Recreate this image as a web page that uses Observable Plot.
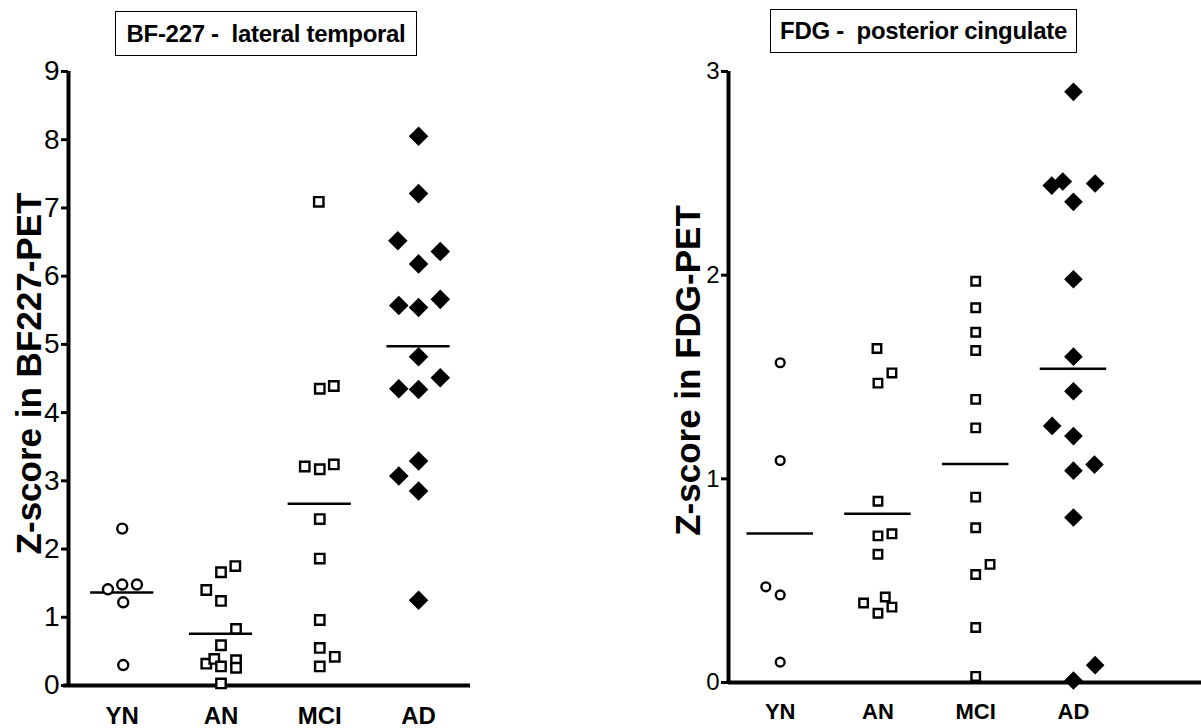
<!DOCTYPE html>
<html><head><meta charset="utf-8">
<script src="https://cdn.jsdelivr.net/npm/d3@7"></script>
<script src="https://cdn.jsdelivr.net/npm/@observablehq/plot@0.6"></script>
<style>
body{margin:0;background:#fff;}
#wrap{position:relative;width:1201px;height:728px;overflow:hidden;font-family:"Liberation Sans",Arial,sans-serif;background:#fff;}
.panel{position:absolute;top:0;}
.title{position:absolute;border:1.5px solid #000;box-sizing:border-box;font-weight:bold;white-space:pre;display:flex;align-items:center;justify-content:center;background:#fff;color:#000;letter-spacing:-0.3px;}
</style></head><body><div id="wrap"></div>
<script>
const groups = ["YN", "AN", "MCI", "AD"];

// Left panel: BF-227 - lateral temporal
const bfTitle = "BF-227 -  lateral temporal";
const bfYLabel = "Z-score in BF227-PET";
const bfTicks = [0, 1, 2, 3, 4, 5, 6, 7, 8, 9];
const bfGroup = [
  "YN","YN","YN","YN","YN","YN",
  "AN","AN","AN","AN","AN","AN","AN","AN","AN","AN","AN","AN",
  "MCI","MCI","MCI","MCI","MCI","MCI","MCI","MCI","MCI","MCI","MCI","MCI",
  "AD","AD","AD","AD","AD","AD","AD","AD","AD","AD","AD","AD","AD","AD","AD","AD"
];
const bfZ = [
  2.30, 1.41, 1.48, 1.48, 1.22, 0.30,
  1.66, 1.75, 1.40, 1.24, 0.83, 0.59, 0.32, 0.39, 0.28, 0.37, 0.26, 0.03,
  7.09, 4.35, 4.39, 3.21, 3.17, 3.24, 2.44, 1.86, 0.96, 0.55, 0.42, 0.28,
  8.05, 7.21, 6.52, 6.36, 6.18, 5.57, 5.54, 5.66, 4.82, 4.35, 4.34, 4.51, 3.29, 3.07, 2.85, 1.25
];
const bfShift = [
  0, -0.145, 0, 0.149, 0.01, 0.01,
  0, 0.145, -0.149, 0, 0.152, 0, -0.149, -0.068, 0, 0.152, 0.152, 0,
  -0.01, 0, 0.142, -0.152, 0, 0.142, 0, 0, 0, 0, 0.152, 0,
  0, 0, -0.21, 0.22, 0, -0.2, 0, 0.22, 0, -0.2, 0, 0.22, 0, -0.2, 0, 0
];

// Right panel: FDG - posterior cingulate
const fdgTitle = "FDG -  posterior cingulate";
const fdgYLabel = "Z-score in FDG-PET";
const fdgTicks = [0, 1, 2, 3];
const fdgGroup = [
  "YN","YN","YN","YN","YN",
  "AN","AN","AN","AN","AN","AN","AN","AN","AN","AN","AN",
  "MCI","MCI","MCI","MCI","MCI","MCI","MCI","MCI","MCI","MCI","MCI","MCI",
  "AD","AD","AD","AD","AD","AD","AD","AD","AD","AD","AD","AD","AD","AD","AD"
];
const fdgZ = [
  1.57, 1.09, 0.47, 0.43, 0.10,
  1.64, 1.47, 1.52, 0.89, 0.72, 0.73, 0.63, 0.39, 0.42, 0.34, 0.37,
  1.97, 1.84, 1.72, 1.63, 1.39, 1.25, 0.91, 0.76, 0.53, 0.58, 0.27, 0.03,
  2.90, 2.44, 2.46, 2.45, 2.36, 1.98, 1.60, 1.43, 1.26, 1.21, 1.04, 1.07, 0.81, 0.085, 0.01
];
const fdgShift = [
  0, 0, -0.147, 0, 0,
  -0.01, 0, 0.143, 0, 0, 0.143, 0, -0.147, 0.075, 0, 0.143,
  0, 0, 0, 0, 0, 0, 0, 0, 0, 0.147, 0, 0,
  0, -0.222, -0.109, 0.222, 0, 0, 0, 0, -0.218, 0, 0, 0.215, 0, 0.222, 0
];

const FONT = "Liberation Sans, Arial, sans-serif";

function makePanel(cfg) {
  const rows = cfg.z.map((v, i) => ({
    g: cfg.group[i],
    gi: groups.indexOf(cfg.group[i]),
    x: groups.indexOf(cfg.group[i]) + cfg.shift[i],
    z: v
  }));
  const means = groups.map((g, i) => ({gi: i, m: d3.mean(rows.filter(r => r.g === g), r => r.z)}));
  const [x0, x1] = cfg.xDomain;
  const [y0, y1] = cfg.yDomain;
  return Plot.plot({
    width: cfg.width, height: cfg.height,
    marginLeft: cfg.mL, marginRight: cfg.mR, marginTop: cfg.mT, marginBottom: cfg.mB,
    style: {fontFamily: FONT, color: "#000", background: "transparent", overflow: "visible"},
    x: {type: "linear", domain: cfg.xDomain},
    y: {domain: cfg.yDomain},
    marks: [
      Plot.ruleY([y0], {x1: x0 - cfg.xOver, x2: x1, stroke: "#000", strokeWidth: 4}),
      Plot.ruleX([x0], {y1: y0, y2: y1, stroke: "#000", strokeWidth: 4}),
      Plot.axisY({ticks: cfg.yTicks, tickFormat: d3.format("d"), tickSize: 7, tickPadding: 2,
        fontSize: cfg.tickFont, strokeWidth: 3, label: null}),
      Plot.axisX({ticks: [0, 1, 2, 3], tickFormat: i => groups[i], tickSize: 0, tickPadding: cfg.catPad,
        fontSize: cfg.catFont, fontWeight: "bold", label: null}),
      Plot.ruleY(means, {y: "m", x1: d => d.gi - cfg.meanHalf, x2: d => d.gi + cfg.meanHalf, stroke: "#000", strokeWidth: 2.5}),
      Plot.dot(rows.filter(r => r.g === "YN"), {x: "x", y: "z", symbol: "circle", r: cfg.rc, stroke: "#000", fill: "#fff", strokeWidth: 2.4}),
      Plot.dot(rows.filter(r => r.g === "AN" || r.g === "MCI"), {x: "x", y: "z", symbol: "square", r: cfg.rs, stroke: "#000", fill: "#fff", strokeWidth: 2.4}),
      Plot.dot(rows.filter(r => r.g === "AD"), {x: "x", y: "z", symbol: "diamond2", r: cfg.rd, fill: "#000", stroke: "none"}),
      Plot.text([cfg.yLabel], {frameAnchor: "left", rotate: -90, dx: cfg.labelDx, dy: cfg.labelDy,
        fontSize: 35, fontWeight: "bold", textAnchor: "middle", lineAnchor: "middle", fill: "#000"})
    ]
  });
}

const wrap = document.getElementById("wrap");

const left = makePanel({
  group: bfGroup, z: bfZ, shift: bfShift, yLabel: bfYLabel, yTicks: bfTicks,
  width: 600, height: 728, mL: 68, mR: 130, mT: 71, mB: 43,
  xDomain: [-0.544, 3.526], yDomain: [0, 9], xOver: 0.05,
  tickFont: 28, catFont: 24, catPad: 21, meanHalf: 0.32,
  rc: 5, rs: 5.3, rd: 8.8, labelDx: -39, labelDy: -5
});
left.classList.add("panel");
left.style.left = "0px";
wrap.appendChild(left);

const right = makePanel({
  group: fdgGroup, z: fdgZ, shift: fdgShift, yLabel: fdgYLabel, yTicks: fdgTicks,
  width: 601, height: 728, mL: 128, mR: 0, mT: 71, mB: 46,
  xDomain: [-0.529, 4.31], yDomain: [0, 3], xOver: 0,
  tickFont: 24, catFont: 22, catPad: 21, meanHalf: 0.34,
  rc: 4.4, rs: 4.8, rd: 8.4, labelDx: -40, labelDy: -6.5
});
right.classList.add("panel");
right.style.left = "600px";
wrap.appendChild(right);

function addTitle(text, x, y, w, h, fs) {
  const d = document.createElement("div");
  d.className = "title";
  d.textContent = text;
  Object.assign(d.style, {left: x + "px", top: y + "px", width: w + "px", height: h + "px", fontSize: fs + "px"});
  wrap.appendChild(d);
}
addTitle(bfTitle, 115, 11, 302, 45, 24);
addTitle(fdgTitle, 770, 9, 307, 44, 24);
</script>
</body></html>
